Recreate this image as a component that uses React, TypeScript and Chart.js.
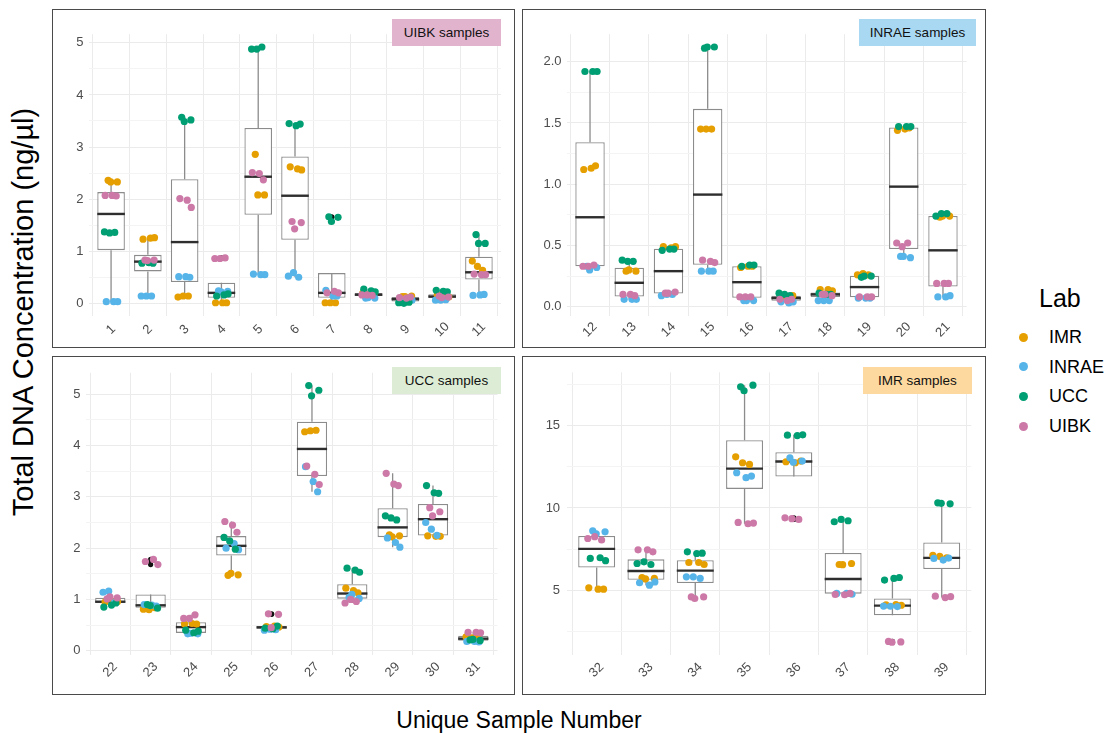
import React, { useEffect, useRef } from 'react';
import { Chart, registerables } from 'chart.js';

Chart.register(...registerables);

const FONT = "'Liberation Sans', Arial, Helvetica, sans-serif";

const LABS = ['IMR', 'INRAE', 'UCC', 'UIBK'];
const LAB_COLORS = ['#E69F00', '#56B4E9', '#009E73', '#CC79A7'];

// values per sample (index = sample number - 1), three replicates each
const IMR = [
  [2.36, 2.33, 2.33], [1.23, 1.25, 1.26], [0.12, 0.14, 0.14], [0.01, 0.01, 0.01], [2.86, 2.08, 2.08],
  [2.62, 2.58, 2.56], [0.01, 0.01, 0.01], [0.19, 0.18, 0.17], [0.13, 0.14, 0.13], [0.16, 0.14, 0.12],
  [0.81, 0.71, 0.63], [1.12, 1.13, 1.15], [0.29, 0.29, 0.3], [0.49, 0.48, 0.49], [1.45, 1.45, 1.45],
  [0.32, 0.33, 0.33], [0.08, 0.09, 0.08], [0.14, 0.14, 0.13], [0.26, 0.27, 0.26], [1.44, 1.45, 1.46],
  [0.73, 0.74, 0.74], [0.95, 0.95, 0.96], [0.81, 0.8, 0.84], [0.52, 0.53, 0.52], [1.47, 1.48, 1.51],
  [0.47, 0.48, 0.46], [4.27, 4.29, 4.3], [1.22, 1.17, 1.13], [2.26, 2.24, 2.22], [2.24, 2.23, 2.23],
  [0.27, 0.25, 0.26], [5.14, 5.06, 5.06], [5.77, 5.71, 5.68], [6.68, 6.68, 6.56], [13.11, 12.75, 12.65],
  [12.81, 12.75, 12.85], [6.56, 6.62, 6.55], [4.1, 4.12, 4.08], [7.11, 7.05, 6.97],
];
const INRAE = [
  [0.03, 0.03, 0.03], [0.14, 0.14, 0.14], [0.51, 0.51, 0.5], [0.24, 0.23, 0.22], [0.56, 0.55, 0.55],
  [0.52, 0.59, 0.5], [0.25, 0.14, 0.14], [0.1, 0.1, 0.11], [0.05, 0.04, 0.06], [0.06, 0.06, 0.07],
  [0.15, 0.16, 0.17], [0.33, 0.32, 0.3], [0.06, 0.06, 0.06], [0.09, 0.1, 0.1], [0.29, 0.29, 0.29],
  [0.05, 0.05, 0.05], [0.04, 0.03, 0.04], [0.05, 0.05, 0.05], [0.07, 0.07, 0.07], [0.41, 0.4, 0.41],
  [0.08, 0.08, 0.09], [1.14, 1.16, 0.94], [0.9, 0.89, 0.87], [0.33, 0.33, 0.34], [2.0, 2.09, 1.97],
  [0.4, 0.42, 0.41], [3.59, 3.3, 3.1], [1.04, 1.02, 1.1], [2.2, 2.11, 2.02], [2.5, 2.37, 2.25],
  [0.18, 0.18, 0.17], [8.61, 8.55, 8.43], [5.45, 5.3, 5.5], [5.81, 5.81, 5.71], [12.14, 11.84, 11.94],
  [13.05, 12.85, 12.78], [4.8, 4.8, 4.75], [4.03, 4.02, 4.0], [6.93, 6.83, 6.95],
];
const UCC = [
  [1.37, 1.35, 1.36], [0.77, 0.78, 0.77], [3.57, 3.52, 3.49], [0.14, 0.16, 0.18], [4.88, 4.88, 4.92],
  [3.45, 3.41, 3.44], [1.66, 1.65, 1.57], [0.27, 0.24, 0.22], [0.01, 0.0, 0.02], [0.25, 0.23, 0.22],
  [1.32, 1.15, 1.15], [1.92, 1.92, 1.92], [0.38, 0.37, 0.37], [0.46, 0.47, 0.47], [2.11, 2.12, 2.12],
  [0.33, 0.34, 0.34], [0.11, 0.1, 0.09], [0.11, 0.1, 0.1], [0.24, 0.25, 0.25], [1.47, 1.47, 1.47],
  [0.74, 0.76, 0.76], [0.85, 0.89, 0.93], [0.9, 0.83, 0.88], [0.4, 0.35, 0.38], [2.21, 2.14, 1.98],
  [0.44, 0.43, 0.48], [5.17, 5.08, 4.97], [1.61, 1.57, 1.53], [2.63, 2.59, 2.55], [3.22, 3.08, 3.07],
  [0.21, 0.2, 0.22], [6.93, 6.97, 6.79], [6.62, 6.72, 6.56], [7.33, 7.23, 7.25], [17.37, 17.47, 17.13],
  [14.43, 14.4, 14.45], [9.16, 9.3, 9.22], [5.61, 5.71, 5.77], [10.31, 10.25, 10.28],
];
const UIBK = [
  [2.07, 2.07, 2.06], [0.83, 0.83, 0.82], [2.01, 1.98, 1.84], [0.86, 0.86, 0.87], [2.51, 2.49, 2.37],
  [1.57, 1.55, 1.43], [0.2, 0.23, 0.2], [0.16, 0.16, 0.15], [0.11, 0.1, 0.12], [0.14, 0.12, 0.11],
  [0.56, 0.55, 0.55], [0.33, 0.33, 0.34], [0.1, 0.1, 0.09], [0.11, 0.12, 0.11], [0.38, 0.37, 0.36],
  [0.08, 0.08, 0.08], [0.06, 0.05, 0.06], [0.1, 0.09, 0.1], [0.08, 0.08, 0.08], [0.52, 0.49, 0.52],
  [0.19, 0.19, 0.19], [1.01, 1.03, 1.05], [1.74, 1.78, 1.68], [0.63, 0.63, 0.7], [2.52, 2.45, 2.31],
  [0.72, 0.71, 0.45], [3.6, 3.44, 3.24], [0.93, 1.0, 0.96], [3.46, 3.25, 3.22], [2.79, 2.71, 2.63],
  [0.36, 0.36, 0.35], [8.14, 8.25, 8.05], [7.45, 7.45, 7.33], [4.59, 4.59, 4.49], [9.12, 9.04, 9.08],
  [9.4, 9.35, 9.3], [4.74, 4.72, 4.8], [1.88, 1.85, 1.83], [4.63, 4.55, 4.6],
];
const LAB_VALUES = [IMR, INRAE, UCC, UIBK];

const PANEL_TITLES = ['UIBK samples', 'INRAE samples', 'UCC samples', 'IMR samples'];
const PANEL_SAMPLES = [
  [1, 2, 3, 4, 5, 6, 7, 8, 9, 10, 11],
  [12, 13, 14, 15, 16, 17, 18, 19, 20, 21],
  [22, 23, 24, 25, 26, 27, 28, 29, 30, 31],
  [32, 33, 34, 35, 36, 37, 38, 39],
];
const PANEL_Y_MAJOR = [
  [0, 1, 2, 3, 4, 5],
  [0, 0.5, 1, 1.5, 2],
  [0, 1, 2, 3, 4, 5],
  [5, 10, 15],
];
const PANEL_Y_LABELS = [
  ['0', '1', '2', '3', '4', '5'],
  ['0.0', '0.5', '1.0', '1.5', '2.0'],
  ['0', '1', '2', '3', '4', '5'],
  ['5', '10', '15'],
];
const PANEL_Y_MINOR = [
  [0.5, 1.5, 2.5, 3.5, 4.5],
  [0.25, 0.75, 1.25, 1.75],
  [0.5, 1.5, 2.5, 3.5, 4.5],
  [2.5, 7.5, 12.5, 17.5],
];

// horizontal jitter patterns (fraction of one category step)
const JITTER_PATTERNS = [
  [-0.16, 0.03, 0.14],
  [-0.08, 0.17, -0.01],
  [-0.13, 0.07, 0.18],
  [-0.18, -0.04, 0.1],
];

// page layout (px)
const PANEL_LAYOUT = [
  { frame: [52, 9, 463, 339], plot: [89, 34.2, 501, 316.1], strip: [392, 19, 109, 27], tickPad: 5.5, labelGap: 13.5 },
  { frame: [522, 9, 464, 339], plot: [566.5, 34.2, 966.5, 315.8], strip: [859, 19, 117, 27], tickPad: 5, labelGap: 14 },
  { frame: [52, 356, 463, 339], plot: [86.1, 372.8, 497.5, 654.8], strip: [392, 367, 109, 27], tickPad: 5.5, labelGap: 15 },
  { frame: [522, 356, 464, 339], plot: [567.1, 372.3, 971.3, 655.1], strip: [863, 367, 109, 27], tickPad: 7, labelGap: 15 },
];
const STRIP_COLORS = ['#E1B3CD', '#A9D8F2', '#DDEDD5', '#FDD99F'];

const BOX_LINE = '#8C8C8C';
const MEDIAN_LINE = '#2E2E2E';

function quantile(sorted: number[], p: number) {
  const h = (sorted.length - 1) * p;
  const lo = Math.floor(h);
  const hi = Math.min(lo + 1, sorted.length - 1);
  return sorted[lo] + (h - lo) * (sorted[hi] - sorted[lo]);
}

function boxStats(values: number[]) {
  const s = [...values].sort((a, b) => a - b);
  const q1 = quantile(s, 0.25);
  const med = quantile(s, 0.5);
  const q3 = quantile(s, 0.75);
  const iqr = q3 - q1;
  const loF = q1 - 1.5 * iqr - 1e-9;
  const hiF = q3 + 1.5 * iqr + 1e-9;
  const inside = s.filter((v) => v >= loF && v <= hiF);
  return {
    q1, med, q3,
    lo: inside[0],
    hi: inside[inside.length - 1],
    outliers: s.filter((v) => v < loF || v > hiF),
  };
}

const boxPlugin = {
  id: 'boxWhiskers',
  afterDatasetDraw(chart: any, args: any) {
    const ds = chart.data.datasets[args.index];
    if (!ds.boxStats) return;
    const ctx = chart.ctx;
    const y = chart.scales.y;
    ctx.save();
    args.meta.data.forEach((el: any, i: number) => {
      const st = ds.boxStats[i];
      const { x, width } = el.getProps(['x', 'width'], true);
      ctx.strokeStyle = BOX_LINE;
      ctx.lineWidth = 1.3;
      ctx.beginPath();
      ctx.moveTo(x, y.getPixelForValue(st.q3));
      ctx.lineTo(x, y.getPixelForValue(st.hi));
      ctx.moveTo(x, y.getPixelForValue(st.q1));
      ctx.lineTo(x, y.getPixelForValue(st.lo));
      ctx.stroke();
      const ym = y.getPixelForValue(st.med);
      ctx.strokeStyle = MEDIAN_LINE;
      ctx.lineWidth = 2.4;
      ctx.beginPath();
      ctx.moveTo(x - width / 2, ym);
      ctx.lineTo(x + width / 2, ym);
      ctx.stroke();
    });
    ctx.restore();
  },
};

function makeXLabelPlugin(gap: number) {
  return {
    id: 'xLabels',
    afterDraw(chart: any) {
      const ctx = chart.ctx;
      const xs = chart.scales.x;
      const bottom = chart.chartArea.bottom;
      ctx.save();
      ctx.fillStyle = '#4D4D4D';
      ctx.font = `13px ${FONT}`;
      ctx.textAlign = 'center';
      ctx.textBaseline = 'middle';
      xs.ticks.forEach((t: any) => {
        ctx.save();
        ctx.translate(xs.getPixelForValue(t.value), bottom + gap);
        ctx.rotate(-Math.PI / 4);
        ctx.fillText(String(t.value), 0, 0);
        ctx.restore();
      });
      ctx.restore();
    },
  };
}

function Panel({ index }: { index: number }) {
  const ref = useRef<HTMLCanvasElement>(null);
  const L = PANEL_LAYOUT[index];
  const [fl, ft, fw, fh] = L.frame;
  const cw = fw - 2;
  const ch = fh - 2;

  useEffect(() => {
    const canvas = ref.current;
    if (!canvas) return;
    const cl = fl + 1;
    const ct = ft + 1;
    const [pl, pt, pr, pb] = L.plot;
    const samples = PANEL_SAMPLES[index];
    const major = PANEL_Y_MAJOR[index];
    const labels = PANEL_Y_LABELS[index];
    const minor = PANEL_Y_MINOR[index];

    const all: number[] = [];
    samples.forEach((s) => LAB_VALUES.forEach((d) => all.push(...d[s - 1])));
    const dmin = Math.min(...all);
    const dmax = Math.max(...all);
    const expand = (dmax - dmin) * 0.05;
    const stats = samples.map((s) => {
      const vals: number[] = [];
      LAB_VALUES.forEach((d) => vals.push(...d[s - 1]));
      return boxStats(vals);
    });

    const pointSets = LABS.map((lab, li) => ({
      type: 'scatter',
      label: lab,
      order: 4 - li,
      data: samples.flatMap((s) =>
        LAB_VALUES[li][s - 1].map((v, r) => ({ x: s + JITTER_PATTERNS[(li + s) % 4][r], y: v }))
      ),
      backgroundColor: LAB_COLORS[li],
      borderWidth: 0,
      pointRadius: 3.6,
      pointHoverRadius: 3.6,
    }));

    const outlierSet = {
      type: 'scatter',
      label: 'outliers',
      order: 9,
      data: samples.flatMap((s, i) => stats[i].outliers.map((v) => ({ x: s, y: v }))),
      backgroundColor: '#111111',
      borderWidth: 0,
      pointRadius: 2.6,
      pointHoverRadius: 2.6,
    };

    const boxSet: any = {
      type: 'bar',
      label: 'box',
      order: 10,
      data: samples.map((s, i) => ({ x: s, y: [stats[i].q1, stats[i].q3] })),
      boxStats: stats,
      backgroundColor: '#FFFFFF',
      borderColor: BOX_LINE,
      borderWidth: 1.3,
      borderSkipped: false,
      barPercentage: 0.75,
      categoryPercentage: 1,
      grouped: false,
    };

    const chart = new Chart(canvas, {
      type: 'scatter',
      data: { datasets: [...pointSets, outlierSet, boxSet] as any },
      options: {
        animation: false,
        responsive: false,
        maintainAspectRatio: false,
        devicePixelRatio: 1,
        events: [],
        layout: { padding: { left: 0, top: pt - ct, right: cl + cw - pr, bottom: 0 } },
        plugins: { legend: { display: false }, tooltip: { enabled: false } },
        scales: {
          x: {
            type: 'linear',
            min: samples[0] - 0.6,
            max: samples[samples.length - 1] + 0.6,
            bounds: 'data',
            offset: false,
            afterBuildTicks: (ax: any) => {
              ax.ticks = samples.map((v) => ({ value: v }));
            },
            afterFit: (ax: any) => {
              ax.height = ct + ch - pb;
            },
            ticks: { display: false },
            grid: { color: '#EBEBEB', lineWidth: 1, drawTicks: false },
            border: { display: false },
          },
          y: {
            type: 'linear',
            min: dmin - expand,
            max: dmax + expand,
            bounds: 'data',
            afterBuildTicks: (ax: any) => {
              ax.ticks = [...major, ...minor].sort((a, b) => a - b).map((v) => ({ value: v }));
            },
            afterFit: (ax: any) => {
              ax.width = pl - cl;
            },
            ticks: {
              padding: L.tickPad,
              color: '#4D4D4D',
              font: { family: FONT, size: 13 },
              callback: (v: any) => {
                const i = major.indexOf(Number(v));
                return i >= 0 ? labels[i] : '';
              },
            },
            grid: {
              color: (c: any) => (major.includes(c.tick.value) ? '#EBEBEB' : '#F4F4F4'),
              lineWidth: 1,
              drawTicks: false,
            },
            border: { display: false },
          },
        },
      } as any,
      plugins: [boxPlugin, makeXLabelPlugin(L.labelGap)],
    });
    return () => chart.destroy();
  }, [index]);

  const [sl, st, sw, sh] = L.strip;
  return (
    <>
      <div
        style={{
          position: 'absolute', left: fl, top: ft, width: fw, height: fh,
          boxSizing: 'border-box', border: '1px solid #4A4A4A',
        }}
      >
        <canvas
          ref={ref}
          width={cw}
          height={ch}
          style={{ position: 'absolute', left: 0, top: 0, width: cw, height: ch, display: 'block' }}
        />
      </div>
      <div
        style={{
          position: 'absolute', left: sl, top: st, width: sw, height: sh,
          background: STRIP_COLORS[index], color: '#111', fontSize: 13.5,
          display: 'flex', alignItems: 'center', justifyContent: 'center', whiteSpace: 'nowrap',
        }}
      >
        {PANEL_TITLES[index]}
      </div>
    </>
  );
}

const LEGEND_Y = [337, 366.5, 396, 426];

export default function App() {
  return (
    <div
      style={{
        position: 'fixed', left: 0, top: 0, width: 1106, height: 733,
        background: '#FFFFFF', fontFamily: FONT, overflow: 'hidden',
      }}
    >
      {PANEL_TITLES.map((_, i) => (
        <Panel key={i} index={i} />
      ))}
      <div
        style={{
          position: 'absolute', left: 23, top: 312, transform: 'translate(-50%, -50%) rotate(-90deg)',
          fontSize: 29, lineHeight: '33px', whiteSpace: 'nowrap', color: '#000',
        }}
      >
        Total DNA Concentration (ng/µl)
      </div>
      <div
        style={{
          position: 'absolute', left: 519, top: 720, transform: 'translate(-50%, -50%)',
          fontSize: 23, lineHeight: '26px', whiteSpace: 'nowrap', color: '#000',
        }}
      >
        Unique Sample Number
      </div>
      <div
        style={{
          position: 'absolute', left: 1039, top: 297.5, transform: 'translateY(-50%)',
          fontSize: 25, lineHeight: '25px', whiteSpace: 'nowrap', color: '#000',
        }}
      >
        Lab
      </div>
      {LABS.map((lab, i) => (
        <React.Fragment key={lab}>
          <div
            style={{
              position: 'absolute', left: 1023 - 4.5, top: LEGEND_Y[i] - 4.5, width: 9, height: 9,
              borderRadius: '50%', background: LAB_COLORS[i],
            }}
          />
          <div
            style={{
              position: 'absolute', left: 1049, top: LEGEND_Y[i], transform: 'translateY(-50%)',
              fontSize: 18, lineHeight: '18px', whiteSpace: 'nowrap', color: '#000',
            }}
          >
            {lab}
          </div>
        </React.Fragment>
      ))}
    </div>
  );
}
